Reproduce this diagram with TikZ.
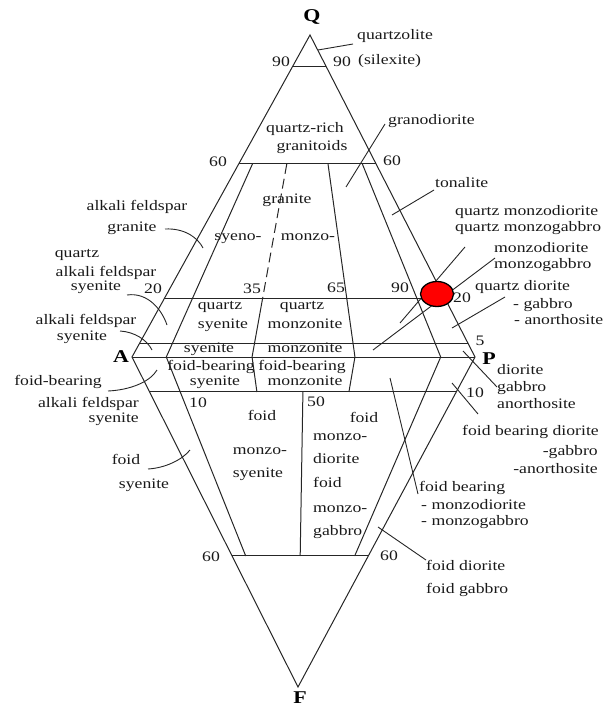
\documentclass[tikz,border=0pt]{standalone}
\usepackage{fontspec}
\setmainfont{Liberation Serif}[FakeStretch=1.22]
\usetikzlibrary{calc,shapes.geometric}
\begin{document}
\begin{tikzpicture}[x=1pt,y=-1pt,
  edge/.style={line width=1pt, draw=black!85},
  dashedge/.style={line width=1pt, draw=black!85, dash pattern=on 10pt off 5pt},
  leader/.style={line width=0.9pt, draw=black!85},
  lbl/.style={inner sep=0pt, font=\fontsize{14.5}{17}\selectfont, text=black!90},
  vtx/.style={inner sep=0pt, font=\fontsize{18}{20}\selectfont\bfseries},
]
\useasboundingbox (0,0) rectangle (608,711);
% corners
\coordinate (Q) at (310,35);
\coordinate (A) at (132,357);
\coordinate (P) at (475,357);
\coordinate (F) at (298,687);
% points on A-P
\coordinate (a10) at ($(A)!0.10!(P)$);
\coordinate (a35) at ($(A)!0.35!(P)$);
\coordinate (a50) at ($(A)!0.50!(P)$);
\coordinate (a65) at ($(A)!0.65!(P)$);
\coordinate (a90) at ($(A)!0.90!(P)$);
% outline
\draw[edge] (Q) -- (A) -- (F) -- (P) -- cycle;
\draw[edge] (A) -- (P);
% horizontal lines upper
\draw[edge] ($(Q)!0.0984!(A)$) -- ($(Q)!0.0984!(P)$);
\draw[edge] ($(Q)!0.4006!(A)$) -- ($(Q)!0.4006!(P)$);
\draw[edge] ($(Q)!0.8168!(A)$) -- ($(Q)!0.8168!(P)$);
\draw[edge] ($(Q)!0.9596!(A)$) -- ($(Q)!0.9596!(P)$);
% horizontal lines lower
\draw[edge] ($(A)!0.106!(F)$) -- ($(P)!0.106!(F)$);
\draw[edge] ($(A)!0.603!(F)$) -- ($(P)!0.603!(F)$);
% radial lines upper
\draw[edge] ($(Q)!0.4006!(a10)$) -- (a10);
\draw[dashedge] ($(Q)!0.4006!(a35)$) -- ($(Q)!0.8168!(a35)$);
\draw[edge] ($(Q)!0.8168!(a35)$) -- (a35);
\draw[edge] ($(Q)!0.4006!(a65)$) -- (a65);
\draw[edge] ($(Q)!0.4006!(a90)$) -- (a90);
% radial lines lower
\draw[edge] (a10) -- ($(a10)!0.603!(F)$);
\draw[edge] (a35) -- ($(a35)!0.106!(F)$);
\draw[edge] ($(a50)!0.106!(F)$) -- ($(a50)!0.603!(F)$);
\draw[edge] (a65) -- ($(a65)!0.106!(F)$);
\draw[edge] (a90) -- ($(a90)!0.603!(F)$);

% vertex labels
\node[vtx] (lQ) at (312,17) {Q};
\node[vtx] (lA) at (121,357) {A};
\node[vtx] (lP) at (489,359) {P};
\node[vtx] (lF) at (300,698) {F};

% numbers
\node[lbl] (n90l) at (281,62) {90};
\node[lbl] (n90r) at (342,62) {90};
\node[lbl] (n60l) at (218,162) {60};
\node[lbl] (n60r) at (392,161) {60};
\node[lbl] (n20l) at (153,289) {20};
\node[lbl] (n35) at (252,289) {35};
\node[lbl] (n65) at (336,288) {65};
\node[lbl] (n90m) at (400,288) {90};
\node[lbl] (n20r) at (462,298) {20};
\node[lbl] (n5) at (480,341) {5};
\node[lbl] (n10l) at (198,403) {10};
\node[lbl] (n50) at (316,402) {50};
\node[lbl] (n10r) at (475,393) {10};
\node[lbl] (n60bl) at (211,557) {60};
\node[lbl] (n60br) at (389,556) {60};

% region labels
\node[lbl,anchor=mid] (rqr1) at (305,130) {quartz-rich};
\node[lbl,anchor=mid] (rqr2) at (312,148) {granitoids};
\node[lbl,anchor=mid] (rgr) at (287,201) {granite};
\node[lbl,anchor=mid] (rsy) at (238,238) {syeno-};
\node[lbl,anchor=mid] (rmo) at (308,238) {monzo-};
\node[lbl,anchor=mid] (rqs1) at (220,307) {quartz};
\node[lbl,anchor=mid] (rqs2) at (223,326) {syenite};
\node[lbl,anchor=mid] (rqm1) at (302,307) {quartz};
\node[lbl,anchor=mid] (rqm2) at (305,326) {monzonite};
\node[lbl,anchor=mid] (rs) at (209,350) {syenite};
\node[lbl,anchor=mid] (rm) at (305,350) {monzonite};
\node[lbl,anchor=mid] (rfs1) at (211,368) {foid-bearing};
\node[lbl,anchor=mid] (rfs2) at (215,383) {syenite};
\node[lbl,anchor=mid] (rfm1) at (302,368) {foid-bearing};
\node[lbl,anchor=mid] (rfm2) at (305,383) {monzonite};
\node[lbl,anchor=mid] (rfms1) at (262,418) {foid};
\node[lbl,anchor=mid] (rfms2) at (260,452) {monzo-};
\node[lbl,anchor=mid] (rfms3) at (258,475) {syenite};
\node[lbl,anchor=mid] (rfmd1) at (364,420) {foid};
\node[lbl,anchor=mid west] (rfmd2) at (313,438) {monzo-};
\node[lbl,anchor=mid west] (rfmd3) at (313,461) {diorite};
\node[lbl,anchor=mid west] (rfmd4) at (313,485) {foid};
\node[lbl,anchor=mid west] (rfmd5) at (313,510) {monzo-};
\node[lbl,anchor=mid west] (rfmd6) at (313,533) {gabbro};

% right labels
\node[lbl,anchor=mid west] (tq1) at (357,37) {quartzolite};
\node[lbl,anchor=mid west] (tq2) at (358,62) {(silexite)};
\node[lbl,anchor=mid west] (tgd) at (388,122) {granodiorite};
\node[lbl,anchor=mid west] (tto) at (435,185) {tonalite};
\node[lbl,anchor=mid west] (tqm1) at (455,213) {quartz monzodiorite};
\node[lbl,anchor=mid west] (tqm2) at (455,229) {quartz monzogabbro};
\node[lbl,anchor=mid west] (tmd1) at (494,250) {monzodiorite};
\node[lbl,anchor=mid west] (tmd2) at (494,266) {monzogabbro};
\node[lbl,anchor=mid west] (tqd1) at (475,288) {quartz diorite};
\node[lbl,anchor=mid west] (tqd2) at (513,306) {- gabbro};
\node[lbl,anchor=mid west] (tqd3) at (514,322) {- anorthosite};
\node[lbl,anchor=mid west] (tdi1) at (497,372) {diorite};
\node[lbl,anchor=mid west] (tdi2) at (497,389) {gabbro};
\node[lbl,anchor=mid west] (tdi3) at (497,406) {anorthosite};
\node[lbl,anchor=mid west] (tfd1) at (462,433) {foid bearing diorite};
\node[lbl,anchor=mid east] (tfd2) at (598,453) {-gabbro};
\node[lbl,anchor=mid east] (tfd3) at (598,471) {-anorthosite};
\node[lbl,anchor=mid west] (tfm1) at (419,489) {foid bearing};
\node[lbl,anchor=mid west] (tfm2) at (421,507) {- monzodiorite};
\node[lbl,anchor=mid west] (tfm3) at (421,523) {- monzogabbro};
\node[lbl,anchor=mid west] (tfg1) at (426,568) {foid diorite};
\node[lbl,anchor=mid west] (tfg2) at (426,591) {foid gabbro};

% left labels
\node[lbl,anchor=mid] (laf1) at (137,208) {alkali feldspar};
\node[lbl,anchor=mid] (laf2) at (132,229) {granite};
\node[lbl,anchor=mid] (lqa1) at (77,255) {quartz};
\node[lbl,anchor=mid] (lqa2) at (106,274) {alkali feldspar};
\node[lbl,anchor=mid] (lqa3) at (96,288) {syenite};
\node[lbl,anchor=mid] (las1) at (86,322) {alkali feldspar};
\node[lbl,anchor=mid] (las2) at (82,338) {syenite};
\node[lbl,anchor=mid] (lfb1) at (58,383) {foid-bearing};
\node[lbl,anchor=mid east] (lfb2) at (139,405) {alkali feldspar};
\node[lbl,anchor=mid east] (lfb3) at (139,420) {syenite};
\node[lbl,anchor=mid] (lfs1) at (126,462) {foid};
\node[lbl,anchor=mid] (lfs2) at (144,486) {syenite};

% leader end points
\coordinate (k1a) at (318,50);  \coordinate (k1b) at (353,44);
\coordinate (k2a) at (346,187); \coordinate (k2b) at (385,124);
\coordinate (k3a) at (392,215); \coordinate (k3b) at (434,190);
\coordinate (k4a) at (400,323); \coordinate (k4b) at (465,247);
\coordinate (k5a) at (373,350); \coordinate (k5b) at (495,258);
\coordinate (k6a) at (452,328); \coordinate (k6b) at (505,297);
\coordinate (k7a) at (463,351); \coordinate (k7b) at (497,387);
\coordinate (k8a) at (452,383); \coordinate (k8b) at (478,414);
\coordinate (k9a) at (390,378); \coordinate (k9b) at (418,494);
\coordinate (k10a) at (378,527); \coordinate (k10b) at (426,560);
\coordinate (k11a) at (165,229); \coordinate (k11b) at (203,248);
\coordinate (k12a) at (127,295); \coordinate (k12b) at (167,325);
\coordinate (k13a) at (120,331); \coordinate (k13b) at (152,350);
\coordinate (k14a) at (108,391); \coordinate (k14b) at (157,370);
\coordinate (k15a) at (148,469); \coordinate (k15b) at (190,450);

\draw[leader] (k1a) -- (k1b);
\draw[leader] (k2a) -- (k2b);
\draw[leader] (k3a) -- (k3b);
\draw[leader] (k4a) -- (k4b);
\draw[leader] (k5a) -- (k5b);
\draw[leader] (k6a) -- (k6b);
\draw[leader] (k7a) -- (k7b);
\draw[leader] (k8a) -- (k8b);
\draw[leader] (k9a) -- (k9b);
\draw[leader] (k10a) -- (k10b);
\draw[leader] (k11a) .. controls (185,228) and (198,238) .. (k11b);
\draw[leader] (k12a) .. controls (148,292) and (162,310) .. (k12b);
\draw[leader] (k13a) .. controls (135,332) and (147,340) .. (k13b);
\draw[leader] (k14a) .. controls (130,390) and (150,382) .. (k14b);
\draw[leader] (k15a) .. controls (165,468) and (182,460) .. (k15b);

% red marker
\node[draw=black, line width=1.3pt, fill=red, ellipse, inner sep=0pt,
      minimum width=33pt, minimum height=25pt] (dot) at (437,294) {};
\end{tikzpicture}
\end{document}
